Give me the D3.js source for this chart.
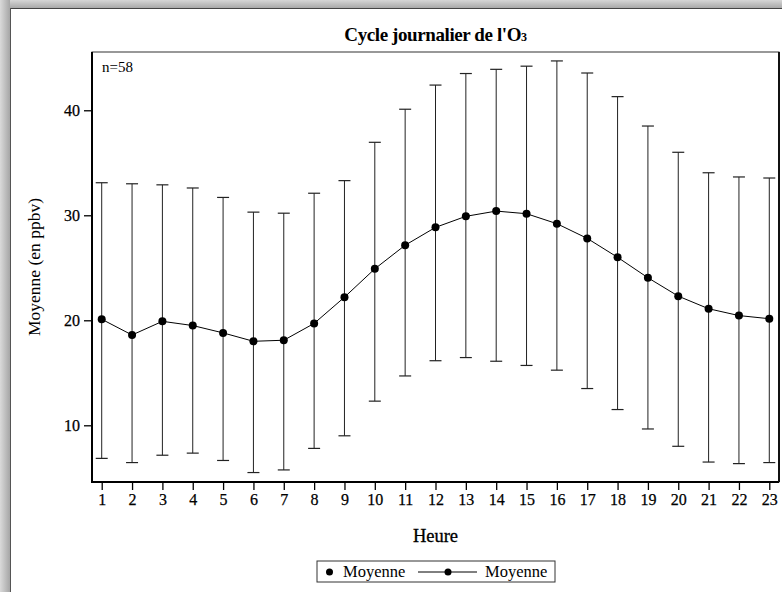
<!DOCTYPE html>
<html>
<head>
<meta charset="utf-8">
<script src="https://cdn.jsdelivr.net/npm/d3@7"></script>
<style>
  body { margin: 0; background: #fff; }
  text { font-family: "Liberation Serif", "Times New Roman", serif; fill: #000; }
</style>
</head>
<body>
<div id="chart-container"></div>
<script>
let width = 782;
let height = 592;

// data
let hours = [1, 2, 3, 4, 5, 6, 7, 8, 9, 10, 11, 12, 13, 14, 15, 16, 17, 18, 19, 20, 21, 22, 23];
let meanValues = [20.1, 18.6, 19.9, 19.5, 18.8, 18.0, 18.1, 19.7, 22.2, 24.9, 27.15, 28.85, 29.9, 30.4, 30.15, 29.2, 27.8, 26.0, 24.05, 22.3, 21.1, 20.45, 20.15];
let upperValues = [33.1, 33.0, 32.9, 32.6, 31.7, 30.3, 30.2, 32.1, 33.3, 36.95, 40.1, 42.4, 43.5, 43.9, 44.2, 44.7, 43.55, 41.3, 38.5, 36.0, 34.05, 33.65, 33.55];
let lowerValues = [6.85, 6.45, 7.15, 7.35, 6.65, 5.5, 5.75, 7.8, 9.0, 12.3, 14.7, 16.15, 16.45, 16.1, 15.7, 15.25, 13.5, 11.5, 9.65, 8.0, 6.5, 6.35, 6.45];
let yTicks = [10, 20, 30, 40];

let data = hours.map(function(h, i){
    return {hour: h, mean: meanValues[i], upper: upperValues[i], lower: lowerValues[i]};
});

let plotLeft = 92;
let plotRight = 779;
let plotTop = 52;
let plotBottom = 482;

let svg = d3.select("#chart-container")
  .append("svg")
    .attr("width", width)
    .attr("height", height);

// window frame / shadow round the panel
let defs = svg.append("defs");
let gTop = defs.append("linearGradient").attr("id", "gTop").attr("x1", 0).attr("y1", 0).attr("x2", 0).attr("y2", 1);
gTop.append("stop").attr("offset", "0%").attr("stop-color", "#d6d6d6");
gTop.append("stop").attr("offset", "100%").attr("stop-color", "#a9a9a9");
let gLeft = defs.append("linearGradient").attr("id", "gLeft").attr("x1", 0).attr("y1", 0).attr("x2", 1).attr("y2", 0);
gLeft.append("stop").attr("offset", "0%").attr("stop-color", "#dadada");
gLeft.append("stop").attr("offset", "100%").attr("stop-color", "#a6a6a6");

svg.append("rect").attr("x", 0).attr("y", 0).attr("width", width).attr("height", 8).attr("fill", "url(#gTop)");
svg.append("rect").attr("x", 0).attr("y", 0).attr("width", 10).attr("height", height).attr("fill", "url(#gLeft)");
svg.append("line").attr("x1", 10).attr("x2", width).attr("y1", 8.5).attr("y2", 8.5).attr("stroke", "#444");
svg.append("line").attr("x1", 10.5).attr("x2", 10.5).attr("y1", 8).attr("y2", height).attr("stroke", "#555");

let xScale = d3.scaleLinear().domain([0.68, 23.32]).range([plotLeft, plotRight]);
let yScale = d3.scaleLinear().domain([4.6, 45.55]).range([plotBottom, plotTop]);

// title
let title = svg.append("text")
    .attr("x", (plotLeft + plotRight) / 2)
    .attr("y", 41)
    .attr("text-anchor", "middle")
    .style("font-size", "19px")
    .style("font-weight", "bold")
    .style("letter-spacing", "-0.4px");
title.append("tspan").text("Cycle journalier de l'O");
title.append("tspan").text("3").style("font-size", "12px");

// plot box
svg.append("rect")
    .attr("x", plotLeft).attr("y", plotTop)
    .attr("width", plotRight - plotLeft).attr("height", plotBottom - plotTop)
    .attr("fill", "none").attr("stroke", "#333").attr("stroke-width", 1);

// axes
let xAxis = d3.axisBottom(xScale).tickValues(hours).tickSize(8).tickPadding(4).tickFormat(d3.format("d"));
let xAxisGroup = svg.append("g").attr("class", "xaxis")
    .attr("transform", "translate(0," + plotBottom + ")")
    .call(xAxis);

let yAxis = d3.axisLeft(yScale).tickValues(yTicks).tickSize(8).tickPadding(4);
let yAxisGroup = svg.append("g").attr("class", "yaxis")
    .attr("transform", "translate(" + plotLeft + ",0)")
    .call(yAxis);

svg.selectAll(".xaxis .domain, .yaxis .domain").remove();
svg.selectAll(".tick line").attr("stroke", "#000").attr("stroke-width", 1.3);
svg.selectAll(".tick text")
    .style("font-family", "Liberation Serif, serif")
    .style("font-size", "16px")
    .attr("stroke", "#000").attr("stroke-width", 0.25);

// heavier axis lines left, bottom and right
svg.append("line").attr("x1", plotLeft).attr("x2", plotLeft).attr("y1", plotTop).attr("y2", plotBottom + 1)
    .attr("stroke", "#000").attr("stroke-width", 2);
svg.append("line").attr("x1", plotLeft).attr("x2", plotRight).attr("y1", plotBottom).attr("y2", plotBottom)
    .attr("stroke", "#000").attr("stroke-width", 2);
svg.append("line").attr("x1", plotRight).attr("x2", plotRight).attr("y1", plotTop).attr("y2", plotBottom)
    .attr("stroke", "#111").attr("stroke-width", 2);

// error bars
let bars = svg.selectAll(".errbar").data(data).enter()
    .append("g")
    .attr("class", "errbar");

bars.append("line")
    .attr("x1", d => xScale(d.hour)).attr("x2", d => xScale(d.hour))
    .attr("y1", d => yScale(d.upper)).attr("y2", d => yScale(d.lower))
    .attr("stroke", "#222").attr("stroke-width", 1);
bars.append("line")
    .attr("x1", d => xScale(d.hour) - 6).attr("x2", d => xScale(d.hour) + 6)
    .attr("y1", d => yScale(d.upper)).attr("y2", d => yScale(d.upper))
    .attr("stroke", "#222").attr("stroke-width", 1.2);
bars.append("line")
    .attr("x1", d => xScale(d.hour) - 6).attr("x2", d => xScale(d.hour) + 6)
    .attr("y1", d => yScale(d.lower)).attr("y2", d => yScale(d.lower))
    .attr("stroke", "#222").attr("stroke-width", 1.2);

// mean line + markers
let meanLine = d3.line().x(d => xScale(d.hour)).y(d => yScale(d.mean));
svg.append("path")
    .datum(data)
    .attr("d", meanLine)
    .attr("fill", "none")
    .attr("stroke", "#000")
    .attr("stroke-width", 1);

svg.selectAll(".meanpt").data(data).enter()
    .append("circle")
    .attr("class", "meanpt")
    .attr("cx", d => xScale(d.hour))
    .attr("cy", d => yScale(d.mean))
    .attr("r", 4)
    .attr("fill", "#000");

// n label
svg.append("text").text("n=58")
    .attr("x", 102).attr("y", 72)
    .style("font-size", "15px");

// axis titles
svg.append("text").text("Heure")
    .attr("x", (plotLeft + plotRight) / 2)
    .attr("y", 542)
    .attr("text-anchor", "middle")
    .style("font-size", "18.5px")
    .attr("stroke", "#000").attr("stroke-width", 0.3);

svg.append("text").text("Moyenne (en ppbv)")
    .attr("transform", "translate(40," + ((plotTop + plotBottom) / 2) + ") rotate(-90)")
    .attr("text-anchor", "middle")
    .style("font-size", "17.5px");

// legend
let legend = svg.append("g").attr("class", "legend");
legend.append("rect")
    .attr("x", 317).attr("y", 561)
    .attr("width", 238).attr("height", 21)
    .attr("fill", "#fff").attr("stroke", "#333").attr("stroke-width", 1);
legend.append("circle").attr("cx", 329.5).attr("cy", 572).attr("r", 3.5).attr("fill", "#000");
legend.append("text").text("Moyenne").attr("x", 343).attr("y", 577).style("font-size", "16.5px");
legend.append("line").attr("x1", 418).attr("x2", 477).attr("y1", 572).attr("y2", 572).attr("stroke", "#000");
legend.append("circle").attr("cx", 448).attr("cy", 572).attr("r", 3.5).attr("fill", "#000");
legend.append("text").text("Moyenne").attr("x", 485).attr("y", 577).style("font-size", "16.5px");
</script>
</body>
</html>
